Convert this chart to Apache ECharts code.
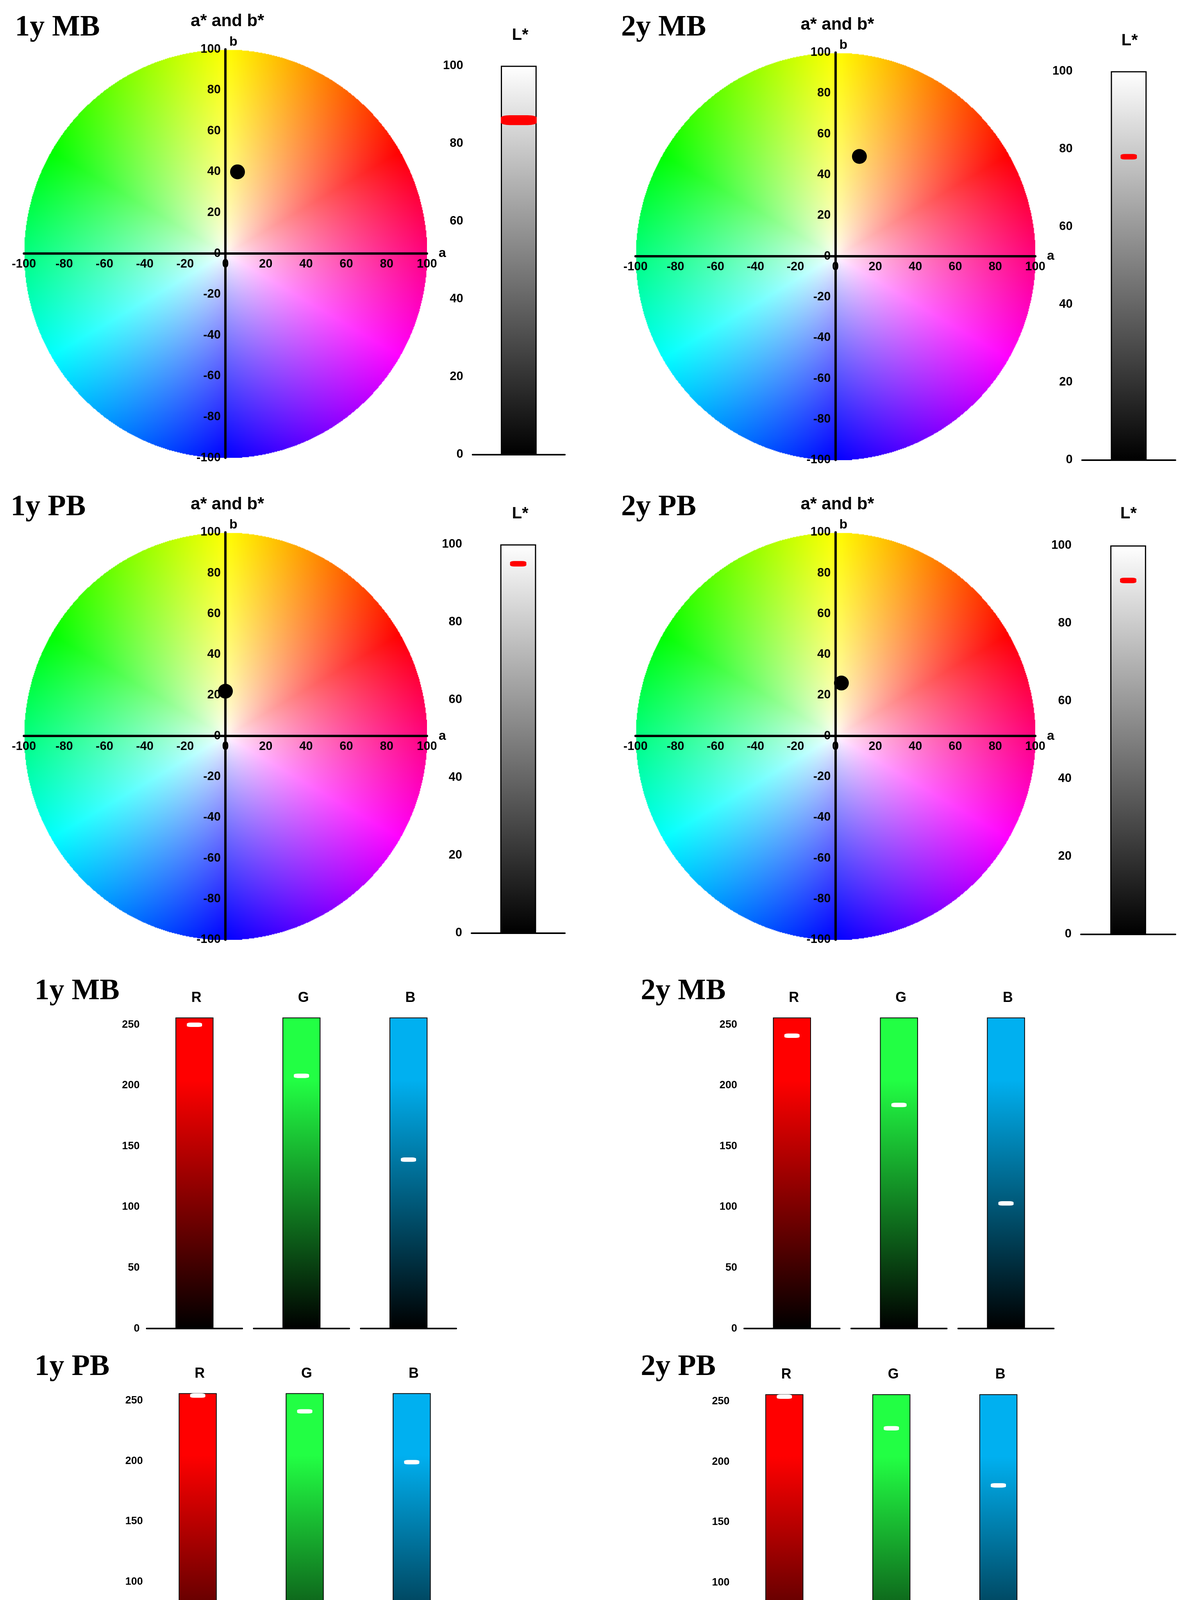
<!DOCTYPE html>
<html><head><meta charset="utf-8">
<script src="https://cdn.jsdelivr.net/npm/echarts@6/dist/echarts.min.js"></script>
<style>html,body{margin:0;background:#fff}#c{width:3059px;height:4374px}</style>
</head><body><div id="c"></div>
<script>
// 数据
var panelNames = ['1y MB', '2y MB', '1y PB', '2y PB'];
var aValues = [6, 12, 0, 3];
var bValues = [40, 49, 22, 26];
var lValues = [86, 78, 95, 91];
var lScaleTop = [100];
var channels = ['R', 'G', 'B'];
var rValues = [250, 241, 254, 254];
var gValues = [208, 184, 241, 228];
var bChanValues = [139, 103, 199, 181];
var channelTop = [256];

var sx = 3059 / 1100, sy = 4374 / 1560;
function X(v){ return v * sx; }
function Y(v){ return v * sy; }

// 色轮图片
function makeWheel(){
    var n = 600, cv = document.createElement('canvas');
    cv.width = n; cv.height = n;
    var ctx = cv.getContext('2d'), img = ctx.createImageData(n, n), d = img.data;
    function hsl(h){
        h = ((h % 360) + 360) % 360;
        var f = function(k){ var kk = (k + h / 30) % 12; return 0.5 - 0.5 * Math.max(-1, Math.min(kk - 3, 9 - kk, 1)); };
        return [f(0), f(8), f(4)];
    }
    for (var j = 0; j < n; j++) for (var i = 0; i < n; i++) {
        var x = (i - n / 2) / (n / 2), y = (n / 2 - j) / (n / 2), r = Math.sqrt(x * x + y * y), p = (j * n + i) * 4;
        if (r > 1) { d[p + 3] = 0; continue; }
        var th = Math.atan2(y, x) * 180 / Math.PI, c = hsl(th - 30), t = Math.pow(r, 0.75);
        d[p] = 255 * (1 - t + t * c[0]); d[p + 1] = 255 * (1 - t + t * c[1]); d[p + 2] = 255 * (1 - t + t * c[2]); d[p + 3] = 255;
    }
    ctx.putImageData(img, 0, 0);
    return cv;
}
var wheel = makeWheel();

var wheelBox = [[22, 45, 393, 418], [585, 48, 953, 420], [22, 486, 393, 858], [585, 486, 953, 858]];
var lBox = [[435, 60, 520, 415], [996, 65, 1082, 420], [434, 497, 520, 852], [995, 498, 1082, 853]];
var lTitle = [[477, 33], [1038, 38], [477, 470], [1037, 470]];
var nameAt = [[12, 10], [570, 10], [8, 448], [570, 448]];
var rgbBox = [[135, 929, 1213], [685, 929, 1213], [138, 1272, 1555], [678, 1273, 1557]];
var rgbName = [[30, 890], [588, 890], [30, 1233], [588, 1233]];

var grids = [], xAxes = [], yAxes = [], series = [], titles = [], graphics = [];
var lab = { fontFamily: 'Liberation Sans', fontWeight: 'bold', color: '#000' };

for (var k = 0; k < 4; k++) {
    var w = wheelBox[k], gi = grids.length;
    var gw = X(w[2] - w[0]), gh = Y(w[3] - w[1]);
    grids.push({ left: X(w[0]), top: Y(w[1]), width: gw, height: gh });
    // 轴线放在中心（0 处）
    xAxes.push({ gridIndex: gi, type: 'value', min: -100, max: 100, interval: 20, name: 'a', nameGap: 10, offset: -gh / 2,
        nameTextStyle: Object.assign({ fontSize: 34 }, lab),
        axisLine: { onZero: false, lineStyle: { color: '#000', width: 6 } }, axisTick: { show: false }, splitLine: { show: false },
        axisLabel: Object.assign({ fontSize: 31, margin: 12 }, lab) });
    yAxes.push({ gridIndex: gi, type: 'value', min: -100, max: 100, interval: 20, name: 'b', nameGap: 2, offset: -gw / 2,
        nameTextStyle: Object.assign({ fontSize: 34, align: 'left', padding: [0, 0, 0, 10] }, lab),
        axisLine: { onZero: false, lineStyle: { color: '#000', width: 6 } }, axisTick: { show: false }, splitLine: { show: false },
        axisLabel: Object.assign({ fontSize: 31, margin: 12 }, lab) });
    graphics.push({ type: 'image', z: -1, style: { image: wheel, x: X(w[0]), y: Y(w[1]), width: gw, height: gh } });
    series.push({ type: 'scatter', xAxisIndex: gi, yAxisIndex: gi, data: [[aValues[k], bValues[k]]], symbolSize: 38, itemStyle: { color: '#000', opacity: 1 }, z: 5 });
    titles.push({ text: 'a* and b*', left: X((w[0] + w[2]) / 2), top: Y(w[1] - 35), textAlign: 'center', textStyle: Object.assign({ fontSize: 44 }, lab) });
    titles.push({ text: panelNames[k], left: X(nameAt[k][0]), top: Y(nameAt[k][1]), textStyle: { fontFamily: 'Liberation Serif', fontWeight: 'bold', fontSize: 76, color: '#000' } });

    // L* 柱
    var b = lBox[k], li = grids.length;
    grids.push({ left: X(b[0]), top: Y(b[1]), width: X(b[2] - b[0]), height: Y(b[3] - b[1]) });
    xAxes.push({ gridIndex: li, type: 'category', data: ['L*'], axisLabel: { show: false }, axisTick: { show: false },
        axisLine: { lineStyle: { color: '#000', width: 4 } } });
    yAxes.push({ gridIndex: li, type: 'value', min: 0, max: 100, interval: 20, axisLine: { show: false }, axisTick: { show: false },
        splitLine: { show: false }, axisLabel: Object.assign({ fontSize: 31, margin: 24 }, lab) });
    series.push({ type: 'bar', xAxisIndex: li, yAxisIndex: li, data: lScaleTop, barWidth: X(33),
        itemStyle: { borderColor: '#000', borderWidth: 3, color: new echarts.graphic.LinearGradient(0, 0, 0, 1, [{ offset: 0, color: '#ffffff' }, { offset: 1, color: '#000000' }]) } });
    series.push({ type: 'scatter', xAxisIndex: li, yAxisIndex: li, data: [['L*', lValues[k]]], symbol: 'roundRect',
        symbolSize: k === 0 ? [X(33), Y(9)] : [X(15), Y(5)], itemStyle: { color: '#ff0000', opacity: 1 }, z: 5 });
    titles.push({ text: 'L*', left: X(lTitle[k][0]), top: Y(lTitle[k][1] - 10), textAlign: 'center', textStyle: Object.assign({ fontSize: 42 }, lab) });

    // RGB 柱
    var r = rgbBox[k];
    var vals = [rValues[k], gValues[k], bChanValues[k]];
    var tops = ['#ff0000', '#22ff44', '#00b0f0'];
    for (var c = 0; c < 3; c++) {
        var ci = grids.length, left = r[0] + c * 98.5;
        grids.push({ left: X(left), top: Y(r[1]), width: X(88), height: Y(r[2] - r[1]) });
        xAxes.push({ gridIndex: ci, type: 'category', data: [channels[c]], axisTick: { show: false }, axisLabel: { show: false },
            axisLine: { lineStyle: { color: '#000', width: 4 } } });
        yAxes.push({ gridIndex: ci, type: 'value', min: 0, max: 256, interval: 50, axisLine: { show: false }, axisTick: { show: false },
            splitLine: { show: false }, axisLabel: Object.assign({ show: c === 0, fontSize: 27, margin: 18, showMaxLabel: false }, lab) });
        series.push({ type: 'bar', xAxisIndex: ci, yAxisIndex: ci, data: channelTop, barWidth: X(35),
            itemStyle: { borderColor: '#000', borderWidth: 2, color: new echarts.graphic.LinearGradient(0, 0, 0, 1, [{ offset: 0, color: tops[c] }, { offset: 0.2, color: tops[c] }, { offset: 1, color: '#000' }]) } });
        series.push({ type: 'scatter', xAxisIndex: ci, yAxisIndex: ci, data: [[channels[c], vals[c]]], symbol: 'roundRect',
            symbolSize: [X(14), Y(4)], itemStyle: { color: '#fff', opacity: 1 }, z: 5 });
        titles.push({ text: channels[c], left: X(left + 44), top: Y(r[1] - 26), textAlign: 'center', textStyle: Object.assign({ fontSize: 36 }, lab) });
    }
    titles.push({ text: panelNames[k], left: X(rgbName[k][0]), top: Y(rgbName[k][1]), textStyle: { fontFamily: 'Liberation Serif', fontWeight: 'bold', fontSize: 76, color: '#000' } });
}

var chart = echarts.init(document.getElementById('c'));
chart.setOption({
    backgroundColor: '#fff', animation: false,
    title: titles, grid: grids, xAxis: xAxes, yAxis: yAxes, series: series, graphic: graphics
});
</script>
</body></html>
